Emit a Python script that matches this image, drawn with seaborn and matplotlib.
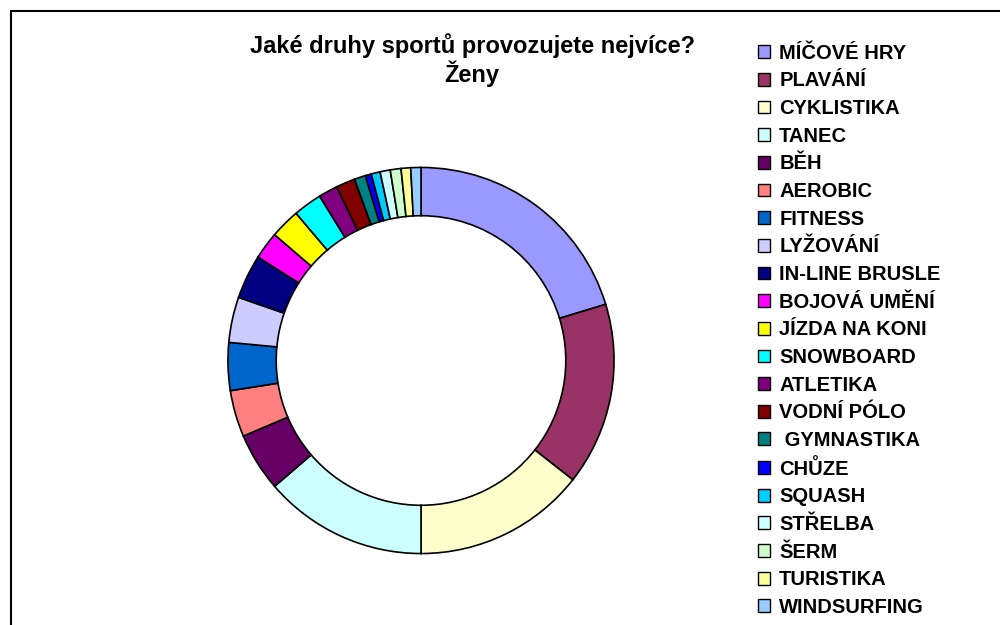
import matplotlib
matplotlib.use("Agg")
import matplotlib.pyplot as plt
import seaborn as sns
from matplotlib.patches import Patch
from matplotlib.lines import Line2D

# data (share of answers, %)
sporty = ['MÍČOVÉ HRY', 'PLAVÁNÍ', 'CYKLISTIKA', 'TANEC', 'BĚH', 'AEROBIC',
          'FITNESS', 'LYŽOVÁNÍ', 'IN-LINE BRUSLE', 'BOJOVÁ UMĚNÍ', 'JÍZDA NA KONI',
          'SNOWBOARD', 'ATLETIKA', 'VODNÍ PÓLO', ' GYMNASTIKA', 'CHŮZE', 'SQUASH',
          'STŘELBA', 'ŠERM', 'TURISTIKA', 'WINDSURFING']
podily = [20.3, 15.3, 14.4, 13.7, 4.9, 3.9, 4.0, 3.8, 3.7, 2.3, 2.5,
          2.4, 1.6, 1.6, 0.95, 0.5, 0.75, 0.85, 0.9, 0.8, 0.85]
barvy = ['#9999FF', '#993366', '#FFFFCC', '#CCFFFF', '#660066', '#FF8080',
         '#0066CC', '#CCCCFF', '#000080', '#FF00FF', '#FFFF00', '#00FFFF',
         '#800080', '#800000', '#008080', '#0000FF', '#00CCFF', '#CCFFFF',
         '#CCFFCC', '#FFFF99', '#99CCFF']

sns.set_style("white")
plt.rcParams['font.family'] = ['Liberation Sans', 'DejaVu Sans']
plt.rcParams['text.color'] = 'black'

fig = plt.figure(figsize=(10, 6.25), dpi=100)
ax = fig.add_axes([0.221, 0.1032, 0.4, 0.64])

ax.pie(podily, colors=barvy, startangle=90, counterclock=False,
       wedgeprops=dict(width=0.25, edgecolor='black', linewidth=1.2))
ax.set_xlim(-1.036, 1.036)
ax.set_ylim(-1.036, 1.036)
ax.set_aspect('equal')
ax.axis('off')

fig.text(0.472, 1 - 33 / 625, 'Jaké druhy sportů provozujete nejvíce?\nŽeny',
         ha='center', va='top', fontsize=17, fontweight='bold', linespacing=1.12)

handles = [Patch(facecolor=c, edgecolor='black', linewidth=1) for c in barvy]
fig.legend(handles, sporty, loc='upper left', bbox_to_anchor=(0.758, 0.93),
           frameon=False, prop=dict(size=14.5, weight='bold'),
           handlelength=0.6, handleheight=0.6, handletextpad=0.45,
           labelspacing=0.43, borderpad=0, borderaxespad=0)

# okraj grafu (jen horní a levá hrana jsou vidět)
fig.add_artist(Line2D([0.0105, 1.0], [1 - 10.5 / 625, 1 - 10.5 / 625],
                      transform=fig.transFigure, color='black', linewidth=1.5))
fig.add_artist(Line2D([0.0105, 0.0105], [0.0, 1 - 10.5 / 625],
                      transform=fig.transFigure, color='black', linewidth=1.5))

fig.savefig('out.png', dpi=100)
